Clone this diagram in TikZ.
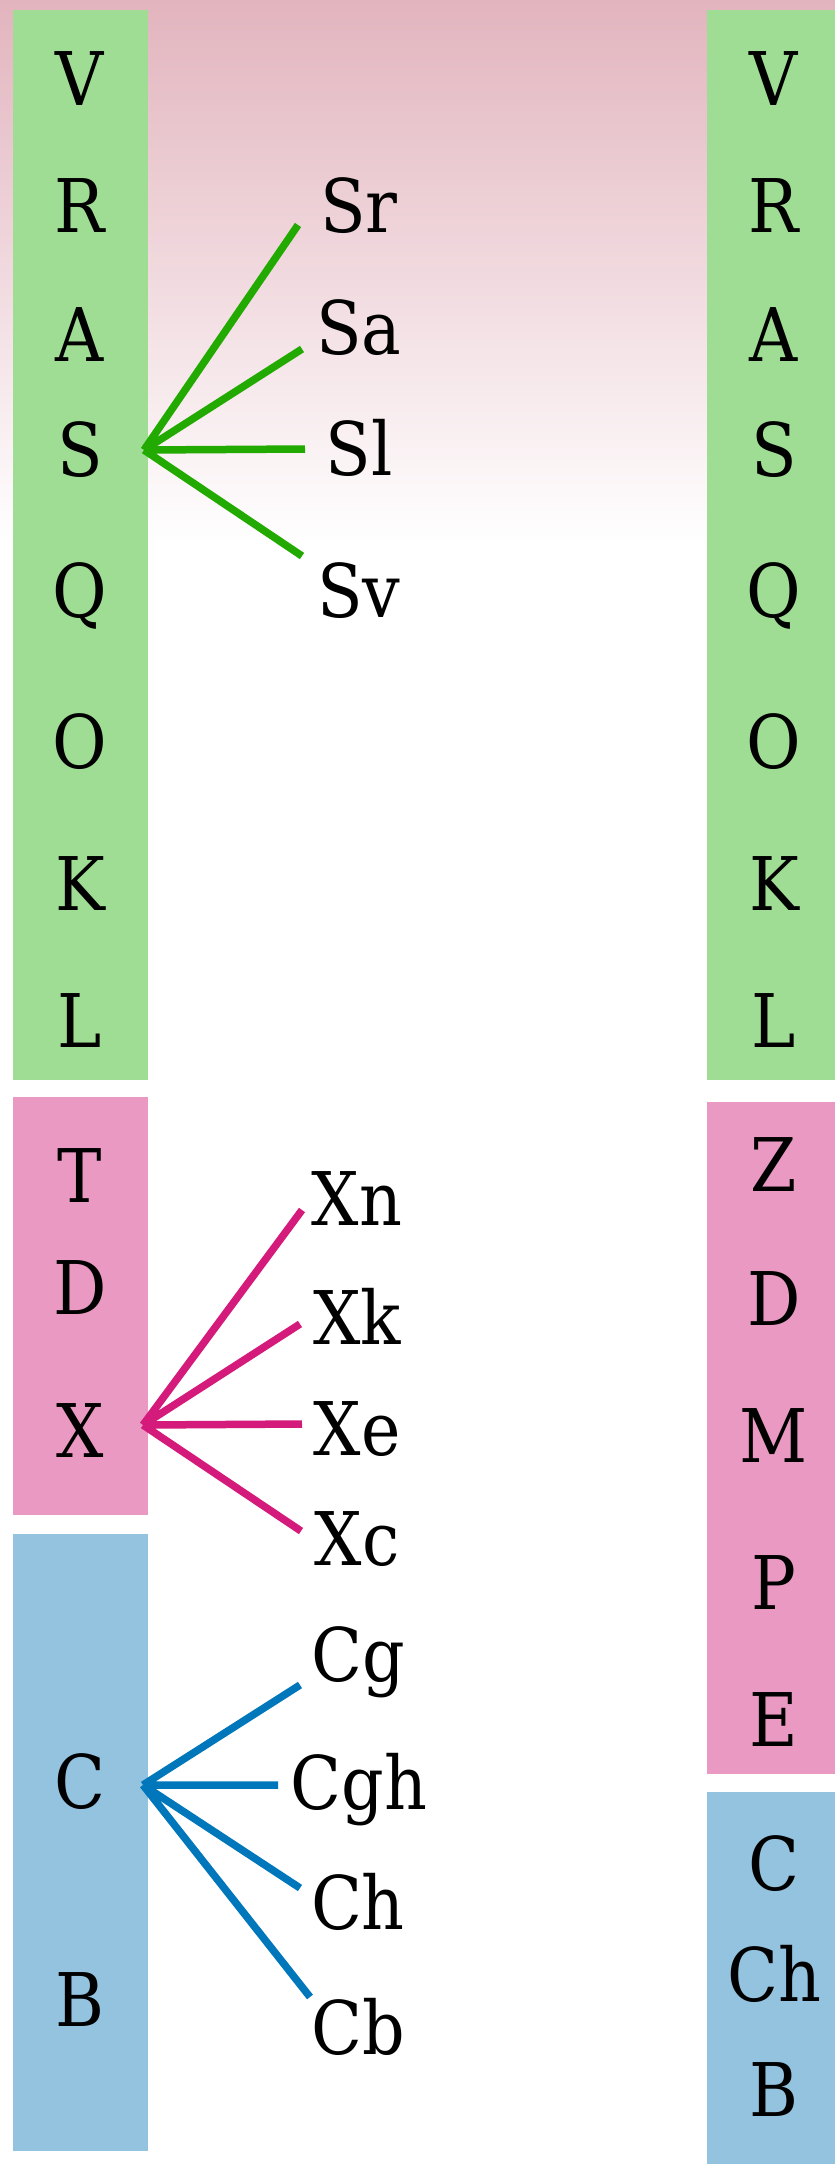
\documentclass[tikz,border=0pt]{standalone}
\usepackage{fontspec}
\setmainfont{DejaVu Serif Condensed}
\definecolor{gradtop}{RGB}{226,180,190}
\definecolor{bargreen}{RGB}{160,221,148}
\definecolor{barpink}{RGB}{234,154,194}
\definecolor{barblue}{RGB}{148,195,224}
\definecolor{lgreen}{RGB}{34,170,0}
\definecolor{lpink}{RGB}{212,26,122}
\definecolor{lblue}{RGB}{0,119,187}
\begin{document}
\begin{tikzpicture}[x=1pt,y=-1pt,
  lab/.style={anchor=base,inner sep=0pt,font=\fontsize{74}{80}\selectfont},
  conn/.style={line width=7.5pt}]
\useasboundingbox (0,0) rectangle (835,2164);
\shade[top color=gradtop,bottom color=white] (0,0) rectangle (835,545);
% bars
\fill[bargreen] (13,10) rectangle (148,1080);
\fill[barpink] (13,1097) rectangle (148,1515);
\fill[barblue] (13,1534) rectangle (148,2151);
\fill[bargreen] (707,10) rectangle (835,1080);
\fill[barpink] (707,1102) rectangle (835,1774);
\fill[barblue] (707,1792) rectangle (835,2164);
% left column
\node[lab] (lV) at (80,105) {V};
\node[lab] (lR) at (80,232) {R};
\node[lab] (lA) at (80,361) {A};
\node[lab] (lS) at (80,476) {S};
\node[lab] (lQ) at (80,617) {Q};
\node[lab] (lO) at (80,768) {O};
\node[lab] (lK) at (80,910) {K};
\node[lab] (lL) at (80,1047) {L};
\node[lab] (lT) at (80,1202) {T};
\node[lab] (lD) at (80,1314) {D};
\node[lab] (lX) at (80,1457) {X};
\node[lab] (lC) at (80,1808) {C};
\node[lab] (lB) at (80,2026) {B};
% right column
\node[lab] (rV) at (774,105) {V};
\node[lab] (rR) at (774,232) {R};
\node[lab] (rA) at (774,361) {A};
\node[lab] (rS) at (774,476) {S};
\node[lab] (rQ) at (774,617) {Q};
\node[lab] (rO) at (774,768) {O};
\node[lab] (rK) at (774,910) {K};
\node[lab] (rL) at (774,1047) {L};
\node[lab] (rZ) at (774,1191) {Z};
\node[lab] (rD) at (774,1325) {D};
\node[lab] (rM) at (774,1462) {M};
\node[lab] (rP) at (774,1609) {P};
\node[lab] (rE) at (774,1746) {E};
\node[lab] (rC) at (774,1890) {C};
\node[lab] (rCh) at (774,2001) {Ch};
\node[lab] (rB) at (774,2116) {B};
% children
\node[lab] (Sr) at (359,232) {Sr};
\node[lab] (Sa) at (359,354) {Sa};
\node[lab] (Sl) at (359,475) {Sl};
\node[lab] (Sv) at (359,617) {Sv};
\node[lab] (Xn) at (357,1225) {Xn};
\node[lab] (Xk) at (357,1344) {Xk};
\node[lab] (Xe) at (357,1455) {Xe};
\node[lab] (Xc) at (357,1565) {Xc};
\node[lab] (Cg) at (358,1681) {Cg};
\node[lab] (Cgh) at (359,1809) {Cgh};
\node[lab] (Ch) at (358,1929) {Ch};
\node[lab] (Cb) at (358,2054) {Cb};
% connector points
\coordinate (Shub) at (144,450);
\coordinate (Xhub) at (143,1425);
\coordinate (Chub) at (143,1785);
\coordinate (eSr) at (298,225);
\coordinate (eSa) at (302,349);
\coordinate (eSl) at (305,449);
\coordinate (eSv) at (302,556);
\coordinate (eXn) at (302,1210);
\coordinate (eXk) at (300,1324);
\coordinate (eXe) at (302,1424);
\coordinate (eXc) at (301,1531);
\coordinate (eCg) at (300,1685);
\coordinate (eCgh) at (278,1785);
\coordinate (eCh) at (300,1888);
\coordinate (eCb) at (310,1997);
\draw[conn,lgreen] (Shub) -- (eSr) (Shub) -- (eSa) (Shub) -- (eSl) (Shub) -- (eSv);
\draw[conn,lpink] (Xhub) -- (eXn) (Xhub) -- (eXk) (Xhub) -- (eXe) (Xhub) -- (eXc);
\draw[conn,lblue] (Chub) -- (eCg) (Chub) -- (eCgh) (Chub) -- (eCh) (Chub) -- (eCb);
\end{tikzpicture}
\end{document}
